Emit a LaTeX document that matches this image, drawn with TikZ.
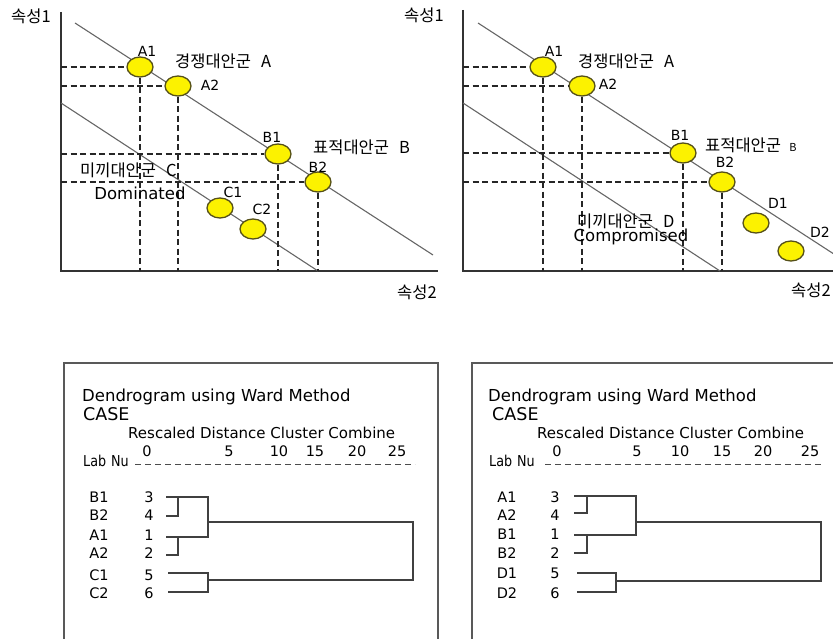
\documentclass[tikz,border=0pt]{standalone}
\usepackage{fontspec}
\setmainfont{DejaVu Sans}
\newfontfamily\kr{Noto Sans CJK KR}
\newfontfamily\narrowsans[FakeStretch=0.85]{DejaVu Sans}
\usetikzlibrary{shapes.geometric}
\definecolor{dotfill}{RGB}{252,242,0}
\definecolor{dotedge}{RGB}{85,80,25}
\begin{document}
\begin{tikzpicture}[x=1pt,y=-1pt,
  axisline/.style={line width=1.4pt, draw=black!80},
  isoline/.style={line width=1.1pt, draw=black!60},
  guide/.style={line width=1.1pt, draw=black!85, dash pattern=on 6pt off 3.5pt},
  alt/.style={ellipse, minimum width=26pt, minimum height=20pt, inner sep=0pt,
              fill=dotfill, draw=dotedge, line width=1.3pt},
  ptlabel/.style={font=\fontsize{14}{14}\selectfont, inner sep=0pt},
  krlabel/.style={font=\kr\fontsize{16.5}{16.5}\selectfont, inner sep=0pt},
  entext/.style={font=\fontsize{16.5}{16.5}\selectfont, inner sep=0pt},
  frame/.style={line width=1.5pt, draw=black!65},
  dtitle/.style={font=\fontsize{16.5}{16.5}\selectfont, inner sep=0pt, anchor=west},
  dcase/.style={font=\fontsize{17.5}{17.5}\selectfont, inner sep=0pt, anchor=west},
  dsmall/.style={font=\fontsize{15}{15}\selectfont, inner sep=0pt, anchor=west},
  dhead/.style={font=\narrowsans\fontsize{15}{15}\selectfont, inner sep=0pt, anchor=west},
  drow/.style={font=\fontsize{14.5}{14.5}\selectfont, inner sep=0pt},
  scaledash/.style={line width=0.9pt, draw=black!70, dash pattern=on 6pt off 4pt},
  tree/.style={line width=1.2pt, draw=black!75}
]
\useasboundingbox (0,0) rectangle (833,639);
\clip (0,0) rectangle (833,639);

% ---------- attribute map: decoy C (dominated) ----------
\coordinate (LO) at (61,271);
\draw[axisline] (61,12) -- (LO) -- (438,271);
\draw[isoline] (75,23) -- (433,255);
\draw[isoline] (61,103) -- (318,271);

\node[alt] (lA1) at (140,67) {};
\node[alt] (lA2) at (178,86) {};
\node[alt] (lB1) at (278,154) {};
\node[alt] (lB2) at (318,182) {};
\node[alt] (lC1) at (220,208) {};
\node[alt] (lC2) at (253,229) {};

\foreach \p in {lA1,lA2,lB1,lB2}{
  \draw[guide] (LO |- \p) -- (\p.west);
  \draw[guide] (\p.south) -- (\p |- LO);
}

\node[krlabel] at (31,16) {속성1};
\node[krlabel] at (417,292) {속성2};
\node[ptlabel] at (147,51) {A1};
\node[krlabel, anchor=west] at (175,61) {경쟁대안군\hspace{0.6em}A};
\node[ptlabel] at (210,85) {A2};
\node[ptlabel] at (272,137) {B1};
\node[krlabel, anchor=west] at (313,147) {표적대안군\hspace{0.6em}B};
\node[ptlabel] at (318,167) {B2};
\node[krlabel, anchor=west] at (80,170) {미끼대안군\hspace{0.6em}C};
\node[entext] at (140,193) {Dominated};
\node[ptlabel] at (233,192) {C1};
\node[ptlabel] at (262,209) {C2};

% ---------- attribute map: decoy D (compromised) ----------
\coordinate (RO) at (463,271);
\draw[axisline] (463,10) -- (RO) -- (833,271);
\draw[isoline] (478,23) -- (840,258);
\draw[isoline] (463,103) -- (720,271);

\node[alt] (rA1) at (543,67) {};
\node[alt] (rA2) at (582,86) {};
\node[alt] (rB1) at (683,153) {};
\node[alt] (rB2) at (722,182) {};
\node[alt] (rD1) at (756,223) {};
\node[alt] (rD2) at (791,251) {};

\foreach \p in {rA1,rA2,rB1,rB2}{
  \draw[guide] (RO |- \p) -- (\p.west);
  \draw[guide] (\p.south) -- (\p |- RO);
}

\node[krlabel] at (424,15) {속성1};
\node[krlabel] at (811,290) {속성2};
\node[ptlabel] at (554,51) {A1};
\node[krlabel, anchor=west] at (578,61) {경쟁대안군\hspace{0.6em}A};
\node[ptlabel] at (608,84) {A2};
\node[ptlabel] at (680,135) {B1};
\node[krlabel, anchor=west] at (705,145) {표적대안군\hspace{0.5em}{\fontsize{11}{11}\selectfont B}};
\node[ptlabel] at (725,162) {B2};
\node[ptlabel] at (778,203) {D1};
\node[ptlabel] at (820,232) {D2};
\node[krlabel, anchor=west] at (577,221) {미끼대안군\hspace{0.6em}D};
\node[entext] at (631,237) {Compromised};

% ---------- dendrogram for A, B, C ----------
\draw[frame] (64,363) rectangle (438,660);
\node[dtitle] at (82,397) {Dendrogram using Ward Method};
\node[dcase] at (83,414) {CASE};
\node[dsmall] at (128,433) {Rescaled Distance Cluster Combine};
\node[dhead] at (83,461) {Lab};
\node[dhead] at (111,461) {Nu};
\foreach \v/\x in {0/147,5/229,10/279,15/315,20/357,25/397}
  \node[drow] at (\x,451) {\v};
\draw[scaledash] (135,464) -- (415,464);
\foreach \l/\n/\y in {B1/3/497,B2/4/515,A1/1/535,A2/2/553,C1/5/575,C2/6/593}{
  \node[drow] at (99,\y) {\l};
  \node[drow] at (149,\y) {\n};
}
\draw[tree] (166,497) -- (208,497) -- (208,537) -- (166,537);
\draw[tree] (166,516) -- (178,516) -- (178,497);
\draw[tree] (166,555) -- (178,555) -- (178,537);
\draw[tree] (208,522) -- (413,522) -- (413,580) -- (208,580);
\draw[tree] (168,573) -- (208,573) -- (208,592) -- (168,592);

% ---------- dendrogram for A, B, D ----------
\draw[frame] (472,363) rectangle (846,660);
\node[dtitle] at (488,397) {Dendrogram using Ward Method};
\node[dcase] at (492,414) {CASE};
\node[dsmall] at (537,433) {Rescaled Distance Cluster Combine};
\node[dhead] at (489,461) {Lab};
\node[dhead] at (517,461) {Nu};
\foreach \v/\x in {0/557,5/637,10/680,15/722,20/763,25/810}
  \node[drow] at (\x,451) {\v};
\draw[scaledash] (545,464) -- (823,464);
\foreach \l/\n/\y in {A1/3/497,A2/4/515,B1/1/534,B2/2/553,D1/5/573,D2/6/593}{
  \node[drow] at (507,\y) {\l};
  \node[drow] at (555,\y) {\n};
}
\draw[tree] (574,496) -- (636,496) -- (636,535) -- (574,535);
\draw[tree] (574,513) -- (587,513) -- (587,496);
\draw[tree] (574,553) -- (587,553) -- (587,535);
\draw[tree] (636,522) -- (821,522) -- (821,581) -- (616,581);
\draw[tree] (577,573) -- (616,573) -- (616,592) -- (577,592);
\end{tikzpicture}
\end{document}
